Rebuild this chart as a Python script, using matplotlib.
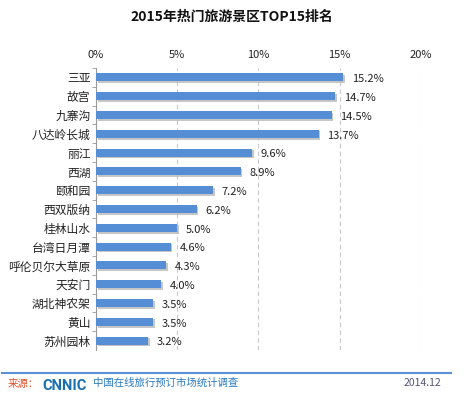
import matplotlib
matplotlib.use("Agg")
import matplotlib.pyplot as plt
from matplotlib.ticker import FuncFormatter
import matplotlib.patheffects as pe

plt.rcParams['font.family'] = ['Noto Sans CJK SC', 'DejaVu Sans']

title = "2015年热门旅游景区TOP15排名"
categories = ["三亚", "故宫", "九寨沟", "八达岭长城", "丽江", "西湖", "颐和园", "西双版纳",
              "桂林山水", "台湾日月潭", "呼伦贝尔大草原", "天安门", "湖北神农架", "黄山", "苏州园林"]
values = [15.2, 14.7, 14.5, 13.7, 9.6, 8.9, 7.2, 6.2, 5.0, 4.6, 4.3, 4.0, 3.5, 3.5, 3.2]
xticks = [0, 5, 10, 15, 20]
source_label = "来源："
source_text = "中国在线旅行预订市场统计调查"
date_text = "2014.12"

fig = plt.figure(figsize=(4.64, 4.00), dpi=100)
fig.patch.set_facecolor("white")

ax = fig.add_axes([96 / 464, 1 - 350 / 400, (421 - 96) / 464, (350 - 68) / 400])
ax.set_facecolor("none")
ypos = list(range(len(categories)))
ax.barh(ypos, values, height=0.43, color="#558ed5", zorder=3,
        path_effects=[pe.SimplePatchShadow(offset=(1.2, -1.2), shadow_rgbFace="#b8b8b8", alpha=0.8), pe.Normal()])
ax.set_ylim(len(categories) - 0.5, -0.5)
ax.set_xlim(0, 20)
ax.set_yticks(ypos)
ax.set_yticklabels(categories, fontsize=8.5, color="#222222")
ax.set_yticks([y + 0.5 for y in ypos[:-1]] + [-0.5], minor=True)
ax.tick_params(axis="y", which="major", length=0, pad=4)
ax.tick_params(axis="y", which="minor", length=3, color="#999999", direction="out")
ax.xaxis.tick_top()
ax.set_xticks(xticks)
ax.xaxis.set_major_formatter(FuncFormatter(lambda v, p: f"{v:.0f}%"))
ax.tick_params(axis="x", length=0, labelsize=8, labelcolor="#222222", pad=6)
ax.grid(axis="x", color="#c8c8c8", linestyle=(0, (4, 3)), linewidth=0.8, zorder=1)
for s in ["top", "right", "bottom"]:
    ax.spines[s].set_visible(False)
ax.spines["left"].set_color("#999999")
ax.spines["left"].set_linewidth(0.8)

for y, v in zip(ypos, values):
    ax.text(v + 0.55, y + 0.1, f"{v:.1f}%", fontsize=8, color="#222222", va="center", ha="left")

fig.text(0.5, 1 - 17 / 400, title, ha="center", va="center", fontsize=10, fontweight="bold", color="#111111")

# footer
fig.add_artist(plt.Line2D([2 / 464, 451 / 464], [1 - 373 / 400, 1 - 373 / 400], color="#5b8fd6", linewidth=1.5))
fig.text(8 / 464, 1 - 384 / 400, source_label, fontsize=7.5, color="#e0502a", va="center", ha="left")
fig.text(42 / 464, 1 - 386 / 400, "CNNIC", fontsize=10.5, color="#1a6fb0", va="center", ha="left",
         fontweight="bold", family=["Roboto", "DejaVu Sans"])
fig.text(93 / 464, 1 - 383 / 400, source_text, fontsize=7.5, color="#2a7ac0", va="center", ha="left")
fig.text(441 / 464, 1 - 383 / 400, date_text, fontsize=7.5, color="#555577", va="center", ha="right")

fig.savefig("out.png", dpi=100, facecolor="white")
